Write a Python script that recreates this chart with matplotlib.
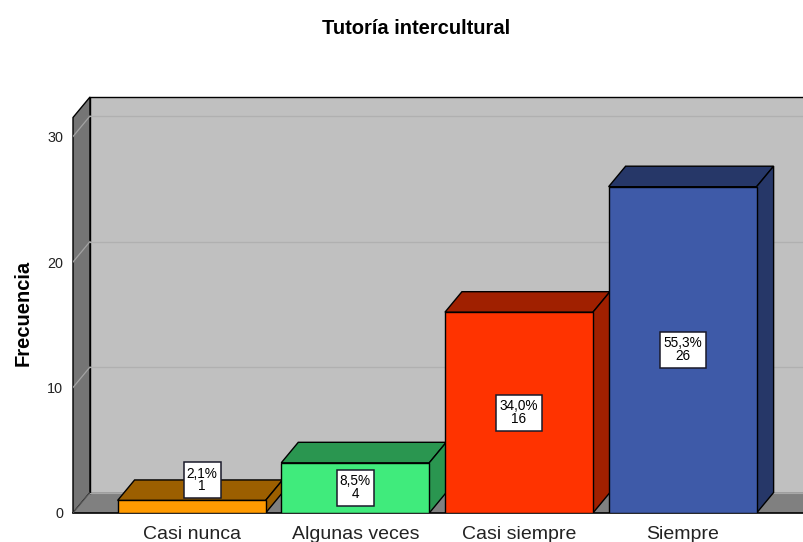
import matplotlib
matplotlib.use("Agg")
import matplotlib.pyplot as plt
from matplotlib.patches import Polygon, Rectangle

categories = ["Casi nunca", "Algunas veces", "Casi siempre", "Siempre"]
counts = [1, 4, 16, 26]
percents = ["2,1%", "8,5%", "34,0%", "55,3%"]
y_ticks = [0, 10, 20, 30]

front_colors = ["#FF9A00", "#40EB7C", "#FF3300", "#3E5AA8"]
side_colors = ["#9C5F00", "#2A9650", "#A02000", "#263768"]

plt.rcParams["font.family"] = ["Liberation Sans", "DejaVu Sans"]
W, H = 804, 542
fig = plt.figure(figsize=(W / 100, H / 100), dpi=100, facecolor="white")
ax = fig.add_axes([73 / W, 1 - 513 / H, (804 - 73) / W, (513 - 97) / H])

unit = 163.67            # pixels per category
ppv = 12.55              # pixels per count
xmin, xmax = (73 - 191.6) / unit, (804 - 191.6) / unit
ymax = (513 - 97) / ppv
ax.set_xlim(xmin, xmax)
ax.set_ylim(0, ymax)
DX, DY = 17 / unit, 20.5 / ppv
half = 74 / unit
EDGE = dict(edgecolor="black", linewidth=1.0, joinstyle="miter")

# walls and floor
ax.add_patch(Polygon([(xmin + DX, DY), (xmax, DY), (xmax, ymax), (xmin + DX, ymax)],
                     facecolor="#C0C0C0", edgecolor="none", zorder=1))
ax.add_patch(Polygon([(xmin, 0), (xmin + DX, DY), (xmin + DX, ymax), (xmin, ymax - DY)],
                     facecolor="#757575", zorder=2, clip_on=False, **EDGE))
ax.add_patch(Polygon([(xmin, 0), (xmax, 0), (xmax + DX, DY), (xmin + DX, DY)],
                     facecolor="#808080", edgecolor="none", zorder=2))
ax.plot([xmin + DX, xmax], [ymax, ymax], color="black", lw=1.0, zorder=3, clip_on=False)
ax.plot([xmin, xmax], [0, 0], color="black", lw=1.2, zorder=3, clip_on=False)
ax.plot([xmin, xmin + DX], [0, DY], color="#555555", lw=0.8, zorder=3)
ax.plot([xmin + DX, xmin + DX], [DY, ymax], color="black", lw=1.0, zorder=3)
ax.plot([xmin + DX, xmax], [DY, DY], color="#A8A8A8", lw=0.8, zorder=3)

# gridlines
for t in y_ticks[1:]:
    ax.plot([xmin, xmin + DX], [t, t + DY], color="#A3A3A3", lw=0.9, zorder=3)
    ax.plot([xmin + DX, xmax], [t + DY, t + DY], color="#B0B0B0", lw=0.9, zorder=3)

# bars
for i, (v, fc, sc) in enumerate(zip(counts, front_colors, side_colors)):
    l, r = i - half, i + half
    ax.add_patch(Polygon([(l, v), (r, v), (r + DX, v + DY), (l + DX, v + DY)],
                         facecolor=sc, zorder=4, **EDGE))
    ax.add_patch(Polygon([(r, 0), (r + DX, DY), (r + DX, v + DY), (r, v)],
                         facecolor=sc, zorder=4, **EDGE))
    ax.add_patch(Rectangle((l, 0), r - l, v, facecolor=fc, zorder=5, **EDGE))

# value label boxes: the shortest bar's box is pushed up and to the right
for i, (v, pct) in enumerate(zip(counts, percents)):
    xc = i + (10.5 / unit if v < 2 else 0)
    yc = (33 / ppv) if v < 2 else v / 2
    bw = (46 if len(pct) > 4 else 37) / unit
    bh = 36 / ppv
    ax.add_patch(Rectangle((xc - bw / 2, yc - bh / 2), bw, bh, facecolor="white",
                           edgecolor="#1A1A2A", linewidth=1.1, zorder=6))
    ax.text(xc, yc + 6.5 / ppv, pct, ha="center", va="center", fontsize=9.8, color="black", zorder=7)
    ax.text(xc, yc - 6.0 / ppv, str(v), ha="center", va="center", fontsize=9.8, color="black", zorder=7)

for s in ax.spines.values():
    s.set_visible(False)
ax.set_yticks(y_ticks)
ax.set_xticks(range(len(categories)))
ax.set_xticklabels(categories, fontsize=14, color="#222222")
ax.tick_params(axis="both", length=0)
ax.tick_params(axis="x", pad=9.5)
ax.tick_params(axis="y", pad=7, labelsize=10.4, labelcolor="#222222")

fig.text(416.5 / W, 1 - 28 / H, "Tutoría intercultural", ha="center", va="center",
         fontsize=14.5, fontweight="bold", color="black")
fig.text(23 / W, 1 - 313 / H, "Frecuencia", ha="center", va="center", rotation=90,
         fontsize=14.5, fontweight="bold", color="black")

fig.savefig("out.png", dpi=100)
